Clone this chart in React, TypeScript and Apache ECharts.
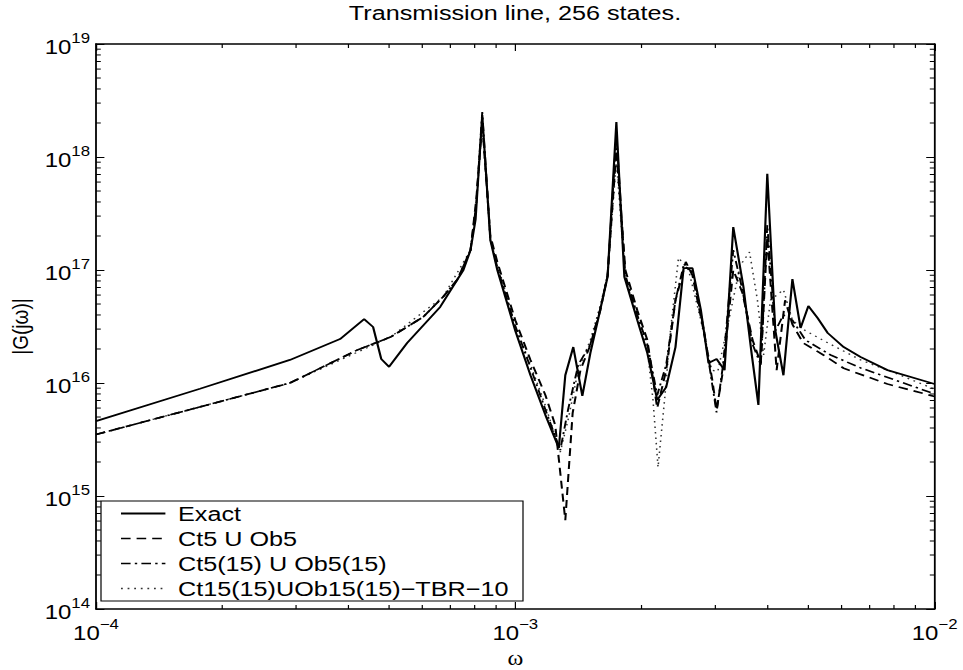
import React, { useEffect, useRef } from 'react';
import * as echarts from 'echarts';

// The reference figure is horizontally stretched; we draw at 1/S width and stretch back.
const S = 1.2;
const W = 963 / S;
const H = 670;

const FONT = '"Liberation Sans", Arial, Helvetica, sans-serif';
const SERIF = '"Liberation Serif", "Times New Roman", serif';

const TITLE = 'Transmission line, 256 states.';
const X_LABEL = 'ω';
const Y_LABEL = '|G(jω)|';

const X_MIN = 1e-4;
const X_MAX = 1e-2;
const Y_MIN = 1e14;
const Y_MAX = 1e19;

const seriesNames = ['Exact', 'Ct5 U Ob5', 'Ct5(15) U Ob5(15)', 'Ct15(15)UOb15(15)−TBR−10'];

// Exact
const exactW = [1.0e-4, 1.77e-4, 2.9e-4, 3.82e-4, 4.36e-4, 4.58e-4, 4.79e-4, 5.0e-4, 5.52e-4, 6.62e-4, 7.52e-4, 7.82e-4, 8.04e-4, 8.34e-4, 8.72e-4, 9.06e-4, 1.0e-3, 1.087e-3, 1.18e-3, 1.27e-3, 1.316e-3, 1.375e-3, 1.445e-3, 1.51e-3, 1.578e-3, 1.66e-3, 1.742e-3, 1.82e-3, 1.954e-3, 2.065e-3, 2.18e-3, 2.29e-3, 2.41e-3, 2.52e-3, 2.645e-3, 2.77e-3, 2.89e-3, 3.02e-3, 3.155e-3, 3.31e-3, 3.5e-3, 3.66e-3, 3.8e-3, 3.99e-3, 4.17e-3, 4.36e-3, 4.58e-3, 4.79e-3, 5.0e-3, 5.26e-3, 5.56e-3, 6.07e-3, 6.66e-3, 7.72e-3, 1.0e-2];
const exactG = [4.6e15, 8.9e15, 1.6e16, 2.45e16, 3.68e16, 3.13e16, 1.63e16, 1.39e16, 2.26e16, 4.71e16, 1.0e17, 1.5e17, 2.8e17, 2.35e18, 1.84e17, 1.0e17, 2.9e16, 1.17e16, 5.2e15, 2.66e15, 1.17e16, 2.08e16, 7.7e15, 1.84e16, 3.76e16, 8.7e16, 2.04e18, 8.7e16, 3.6e16, 1.84e16, 7.08e15, 9.2e15, 2.08e16, 1.04e17, 1.04e17, 4.43e16, 1.5e16, 1.63e16, 1.3e16, 2.4e17, 7.1e16, 1.84e16, 6.4e15, 7.1e17, 2.9e16, 1.17e16, 8.3e16, 3.07e16, 4.8e16, 3.76e16, 2.77e16, 2.08e16, 1.7e16, 1.3e16, 9.8e15];

// Ct5 U Ob5 (dashed)
const ct5W = [1.0e-4, 1.67e-4, 2.9e-4, 4.2e-4, 5.04e-4, 6.03e-4, 6.73e-4, 7.27e-4, 7.82e-4, 8.07e-4, 8.34e-4, 8.72e-4, 9.06e-4, 1.0e-3, 1.087e-3, 1.18e-3, 1.245e-3, 1.316e-3, 1.37e-3, 1.43e-3, 1.51e-3, 1.596e-3, 1.66e-3, 1.742e-3, 1.83e-3, 1.954e-3, 2.065e-3, 2.18e-3, 2.29e-3, 2.41e-3, 2.55e-3, 2.645e-3, 2.82e-3, 2.95e-3, 3.02e-3, 3.13e-3, 3.31e-3, 3.48e-3, 3.68e-3, 3.85e-3, 3.99e-3, 4.2e-3, 4.4e-3, 4.58e-3, 4.86e-3, 5.43e-3, 6.07e-3, 7.72e-3, 1.0e-2];
const ct5G = [3.5e15, 5.8e15, 1.0e16, 1.96e16, 2.55e16, 3.84e16, 5.8e16, 8.2e16, 1.5e17, 4.2e17, 2.0e18, 2.0e17, 1.18e17, 3.6e16, 1.6e16, 7.8e15, 4.25e15, 6.1e14, 5.4e15, 1.3e16, 2.17e16, 4.43e16, 9.0e16, 1.15e18, 1.0e17, 4.4e16, 2.4e16, 6.0e15, 1.3e16, 5.4e16, 1.18e17, 9.0e16, 2.77e16, 1.06e16, 5.8e15, 1.3e16, 1.0e17, 6.3e16, 2.4e16, 1.5e16, 1.96e17, 1.3e16, 5.4e16, 3.3e16, 2.26e16, 1.77e16, 1.35e16, 9.8e15, 7.6e15];

// Ct5(15) U Ob5(15) (dash-dot)
const ct515W = [1.0e-4, 1.67e-4, 2.9e-4, 4.2e-4, 5.04e-4, 6.03e-4, 6.73e-4, 7.27e-4, 7.82e-4, 8.07e-4, 8.34e-4, 8.72e-4, 9.06e-4, 1.0e-3, 1.087e-3, 1.18e-3, 1.28e-3, 1.336e-3, 1.413e-3, 1.51e-3, 1.596e-3, 1.66e-3, 1.742e-3, 1.83e-3, 1.954e-3, 2.065e-3, 2.18e-3, 2.29e-3, 2.41e-3, 2.52e-3, 2.645e-3, 2.82e-3, 2.95e-3, 3.02e-3, 3.13e-3, 3.31e-3, 3.48e-3, 3.68e-3, 3.85e-3, 3.99e-3, 4.17e-3, 4.36e-3, 4.58e-3, 4.92e-3, 5.65e-3, 6.66e-3, 8.3e-3, 1.0e-2];
const ct515G = [3.5e15, 5.8e15, 1.0e16, 1.96e16, 2.55e16, 3.84e16, 5.8e16, 8.2e16, 1.5e17, 3.8e17, 2.5e18, 1.9e17, 1.05e17, 3.2e16, 1.37e16, 5.8e15, 2.55e15, 5.8e15, 1.45e16, 2.2e16, 4.6e16, 8.9e16, 1.57e18, 9.0e16, 4.0e16, 2.2e16, 7.8e15, 1.45e16, 5.4e16, 1.1e17, 9.6e16, 2.9e16, 9.6e15, 5.5e15, 1.45e16, 1.5e17, 6.7e16, 2.2e16, 1.45e16, 2.5e17, 2.9e16, 4.0e16, 3.6e16, 2.4e16, 1.77e16, 1.36e16, 1.02e16, 8.0e15];

// Ct15(15)UOb15(15)-TBR-10 (dotted)
const tbrW = [1.0e-4, 2.9e-4, 5.04e-4, 6.73e-4, 7.82e-4, 8.07e-4, 8.34e-4, 8.72e-4, 1.0e-3, 1.087e-3, 1.18e-3, 1.28e-3, 1.336e-3, 1.413e-3, 1.51e-3, 1.596e-3, 1.66e-3, 1.742e-3, 1.83e-3, 1.954e-3, 2.065e-3, 2.13e-3, 2.19e-3, 2.27e-3, 2.345e-3, 2.45e-3, 2.59e-3, 2.77e-3, 2.94e-3, 3.04e-3, 3.19e-3, 3.44e-3, 3.62e-3, 3.78e-3, 3.91e-3, 4.06e-3, 4.36e-3, 4.58e-3, 4.92e-3, 5.65e-3, 6.66e-3, 8.3e-3, 1.0e-2];
const tbrG = [3.5e15, 1.0e16, 2.55e16, 5.8e16, 1.5e17, 3.8e17, 1.9e18, 1.84e17, 3.2e16, 1.45e16, 6.3e15, 2.45e15, 4.7e15, 1.3e16, 2.4e16, 4.9e16, 9.0e16, 9.4e17, 8.2e16, 4.0e16, 1.96e16, 7.1e15, 1.8e15, 7.1e15, 2.9e16, 1.28e17, 1.0e17, 3.6e16, 1.3e16, 1.26e16, 2.9e16, 1.1e17, 1.44e17, 5.4e16, 1.77e16, 5.4e16, 6.7e16, 3.6e16, 2.9e16, 2.2e16, 1.6e16, 1.17e16, 8.8e15];

// minor tick positions
const minorMultipliers = [2, 3, 4, 5, 6, 7, 8, 9];
const xMinorDecades = [1e-4, 1e-3];
const yMinorDecades = [1e14, 1e15, 1e16, 1e17, 1e18];

const zip = (xs: number[], ys: number[]) => xs.map((x, i) => [x, ys[i]]);

const lineStyles: any[] = [
  { color: '#000', width: 1.8, type: 'solid' },
  { color: '#000', width: 1.7, type: [8, 5] },
  { color: '#000', width: 1.6, type: [8, 3.5, 2, 3.5] },
  { color: '#333', width: 1.3, type: [1.5, 4] },
];

const supFmt = (v: number) => {
  const e = Math.round(Math.log10(v));
  const s = e < 0 ? '−' + String(-e) : String(e);
  return `{b|10}{s|${s}}`;
};

const rich = {
  b: { fontSize: 20, lineHeight: 26, verticalAlign: 'bottom', fontFamily: FONT, color: '#000' },
  s: { fontSize: 14, lineHeight: 14, verticalAlign: 'top', fontFamily: FONT, color: '#000' },
};

export default function App() {
  const ref = useRef<HTMLDivElement>(null);
  useEffect(() => {
    if (!ref.current) return;
    const chart = echarts.init(ref.current, null, { renderer: 'svg' });

    const gridLeft = 96 / S;
    const gridRight = W - 934 / S;
    const gridTop = 44;
    const gridBottom = H - 609;

    const axisCommon: any = {
      type: 'log',
      logBase: 10,
      axisLine: { show: true, onZero: false, lineStyle: { color: '#000', width: 1.5 } },
      axisTick: { show: true, inside: true, length: 7, lineStyle: { color: '#000', width: 1 } },
      splitLine: { show: false },
    };

    const xMinor: number[][] = [];
    xMinorDecades.forEach((d) => minorMultipliers.forEach((m) => xMinor.push([m * d, Y_MIN])));
    const yMinor: number[][] = [];
    yMinorDecades.forEach((d) => minorMultipliers.forEach((m) => yMinor.push([X_MIN, m * d])));

    const tickLen = 4;
    const minorX = (params: any, api: any) => {
      const v = api.value(0);
      const pb = api.coord([v, Y_MIN]);
      const pt = api.coord([v, Y_MAX]);
      return {
        type: 'group',
        children: [
          { type: 'line', shape: { x1: pb[0], y1: pb[1], x2: pb[0], y2: pb[1] - tickLen }, style: { stroke: '#000', lineWidth: 1 } },
          { type: 'line', shape: { x1: pt[0], y1: pt[1], x2: pt[0], y2: pt[1] + tickLen }, style: { stroke: '#000', lineWidth: 1 } },
        ],
      };
    };
    const minorY = (params: any, api: any) => {
      const v = api.value(1);
      const pl = api.coord([X_MIN, v]);
      const pr = api.coord([X_MAX, v]);
      return {
        type: 'group',
        children: [
          { type: 'line', shape: { x1: pl[0], y1: pl[1], x2: pl[0] + tickLen, y2: pl[1] }, style: { stroke: '#000', lineWidth: 1 } },
          { type: 'line', shape: { x1: pr[0], y1: pr[1], x2: pr[0] - tickLen, y2: pr[1] }, style: { stroke: '#000', lineWidth: 1 } },
        ],
      };
    };

    const dataSets = [zip(exactW, exactG), zip(ct5W, ct5G), zip(ct515W, ct515G), zip(tbrW, tbrG)];
    const drawOrder = [3, 1, 2, 0];

    const lineSeries = drawOrder.map((i, k) => ({
      type: 'line',
      name: seriesNames[i],
      data: dataSets[i],
      showSymbol: false,
      symbol: 'none',
      lineStyle: lineStyles[i],
      z: 3 + k,
      silent: true,
    }));

    // Legend drawn as graphic
    const lgX = 101 / S;
    const lgY = 501;
    const lgW = 523 / S - lgX;
    const lgH = 100;
    const rowY = [513.5, 538.5, 563.5, 588.5];
    const legendEls: any[] = [
      { type: 'rect', shape: { x: lgX, y: lgY, width: lgW, height: lgH }, style: { fill: '#fff', stroke: '#000', lineWidth: 1 }, z: 100 },
    ];
    seriesNames.forEach((n, i) => {
      const ls = lineStyles[i];
      legendEls.push({
        type: 'line',
        shape: { x1: 103 / S + 15, y1: rowY[i], x2: 103 / S + 52, y2: rowY[i] },
        style: { stroke: ls.color, lineWidth: ls.width, lineDash: ls.type === 'solid' ? null : ls.type },
        z: 101,
      });
      legendEls.push({
        type: 'text',
        x: 178 / S,
        y: rowY[i],
        style: { text: n, font: `21px ${FONT}`, fill: '#000', textVerticalAlign: 'middle', verticalAlign: 'middle' },
        z: 101,
      });
    });

    const option: any = {
      animation: false,
      backgroundColor: '#fff',
      grid: { left: gridLeft, right: gridRight, top: gridTop, bottom: gridBottom, containLabel: false, outerBoundsMode: 'none' },
      xAxis: [
        {
          ...axisCommon,
          min: X_MIN,
          max: X_MAX,
          position: 'bottom',
          axisLabel: { formatter: supFmt, rich, margin: 8, color: '#000' },
          name: X_LABEL,
          nameLocation: 'middle',
          nameGap: 31,
          nameTextStyle: { fontFamily: SERIF, fontSize: 20, color: '#000' },
        },
        { ...axisCommon, min: X_MIN, max: X_MAX, position: 'top', axisLabel: { show: false } },
      ],
      yAxis: [
        {
          ...axisCommon,
          min: Y_MIN,
          max: Y_MAX,
          position: 'left',
          axisLabel: { formatter: supFmt, rich, margin: 5, color: '#000' },
          name: Y_LABEL,
          nameLocation: 'middle',
          nameGap: 48,
          nameTextStyle: { fontFamily: FONT, fontSize: 19, color: '#000' },
        },
        { ...axisCommon, min: Y_MIN, max: Y_MAX, position: 'right', axisLabel: { show: false } },
      ],
      series: [
        ...lineSeries,
        { type: 'custom', data: xMinor, renderItem: minorX, silent: true, clip: false, z: 10 },
        { type: 'custom', data: yMinor, renderItem: minorY, silent: true, clip: false, z: 10 },
      ],
      graphic: [
        {
          type: 'text',
          x: 515 / S,
          y: 13,
          style: { text: TITLE, font: `21px ${FONT}`, fill: '#000', textAlign: 'center', align: 'center', textVerticalAlign: 'middle', verticalAlign: 'middle' },
          z: 100,
        },
        ...legendEls,
      ],
    };
    chart.setOption(option);
    return () => chart.dispose();
  }, []);

  return (
    <div
      ref={ref}
      style={{
        position: 'absolute',
        left: 0,
        top: 0,
        width: W,
        height: H,
        transform: `scaleX(${S})`,
        transformOrigin: '0 0',
        background: '#fff',
      }}
    />
  );
}
